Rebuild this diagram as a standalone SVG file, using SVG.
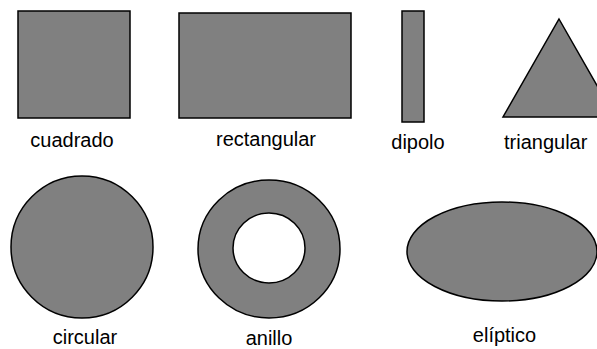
<svg xmlns="http://www.w3.org/2000/svg" width="597" height="349" viewBox="0 0 597 349">
<style>
.s{fill:#808080;stroke:#000;stroke-width:1.5}
.t{font-family:"Liberation Sans",Arial,sans-serif;font-size:20px;fill:#000;text-anchor:middle}
</style>
<rect width="597" height="349" fill="#fff"/>
<g id="cuadrado"><rect class="s" x="18" y="11" width="112" height="107"/><text class="t" x="72" y="147">cuadrado</text></g>
<g id="rectangular"><rect class="s" x="179" y="13" width="172" height="105"/><text class="t" x="266" y="146">rectangular</text></g>
<g id="dipolo"><rect class="s" x="402" y="11" width="22" height="111"/><text class="t" x="418" y="149">dipolo</text></g>
<g id="triangular"><polygon class="s" points="559,19 615,117 503,117"/><text class="t" x="504" y="149" style="text-anchor:start">triangular</text></g>
<g id="circular"><circle class="s" cx="82" cy="247" r="71"/><text class="t" x="85" y="344">circular</text></g>
<g id="anillo"><path class="s" fill-rule="evenodd" d="M198,249a71,69 0 1,0 142,0a71,69 0 1,0 -142,0ZM233,248a36,35 0 1,0 72,0a36,35 0 1,0 -72,0Z"/><text class="t" x="269" y="345">anillo</text></g>
<g id="eliptico"><ellipse class="s" cx="502" cy="251.5" rx="95" ry="49.5"/><text class="t" x="504.5" y="342">elíptico</text></g>
<g id="connectors"/>
</svg>
